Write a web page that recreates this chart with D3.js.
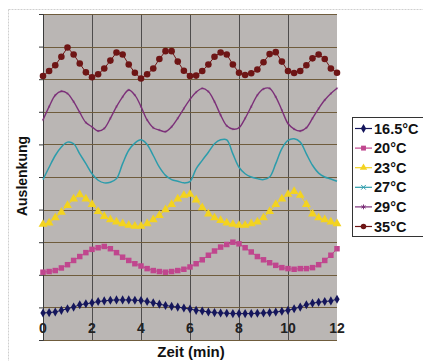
<!DOCTYPE html>
<html>
<head>
<meta charset="utf-8">
<script src="https://cdn.jsdelivr.net/npm/d3@7"></script>
<style>
  body { margin: 0; background: #fff; }
  svg { display: block; font-family: "Liberation Sans", Arial, sans-serif; }
</style>
</head>
<body>
<script>
// time axis (min)
const times = [0, 0.25, 0.5, 0.75, 1, 1.25, 1.5, 1.75, 2, 2.25, 2.5, 2.75, 3, 3.25, 3.5, 3.75,
  4, 4.25, 4.5, 4.75, 5, 5.25, 5.5, 5.75, 6, 6.25, 6.5, 6.75, 7, 7.25, 7.5, 7.75,
  8, 8.25, 8.5, 8.75, 9, 9.25, 9.5, 9.75, 10, 10.25, 10.5, 10.75, 11, 11.25, 11.5, 11.75, 12]
const xTicks = [0, 2, 4, 6, 8, 10, 12]
const seriesNames = ['16.5°C', '20°C', '23°C', '27°C', '29°C', '35°C']

const s165 = [-0.17, -0.16, -0.14, -0.09, -0.04, 0.01, 0.08, 0.11, 0.14, 0.18, 0.20, 0.22, 0.23, 0.23, 0.23, 0.22,
  0.21, 0.18, 0.14, 0.10, 0.06, 0.03, 0.01, -0.02, -0.05, -0.09, -0.11, -0.14, -0.16, -0.17, -0.18, -0.19,
  -0.19, -0.19, -0.19, -0.18, -0.17, -0.16, -0.14, -0.12, -0.09, -0.04, 0.01, 0.08, 0.13, 0.16, 0.18, 0.20, 0.25]
const s20 = [1.08, 1.10, 1.13, 1.21, 1.31, 1.44, 1.56, 1.68, 1.78, 1.83, 1.87, 1.80, 1.68, 1.54, 1.44, 1.34,
  1.27, 1.19, 1.13, 1.10, 1.08, 1.10, 1.13, 1.17, 1.24, 1.34, 1.46, 1.60, 1.73, 1.85, 1.93, 2.00,
  1.95, 1.83, 1.70, 1.56, 1.46, 1.37, 1.29, 1.22, 1.19, 1.17, 1.19, 1.19, 1.22, 1.31, 1.44, 1.60, 1.80]
const s23 = [2.55, 2.59, 2.75, 2.92, 3.13, 3.33, 3.46, 3.33, 3.16, 2.94, 2.79, 2.69, 2.62, 2.57, 2.52, 2.49,
  2.49, 2.57, 2.69, 2.82, 3.00, 3.16, 3.33, 3.44, 3.47, 3.30, 3.06, 2.87, 2.75, 2.67, 2.59, 2.55,
  2.52, 2.52, 2.57, 2.62, 2.75, 2.94, 3.16, 3.33, 3.47, 3.56, 3.44, 3.16, 2.87, 2.75, 2.69, 2.62, 2.57]
const s27 = [3.92, 4.30, 4.66, 4.92, 5.07, 5.02, 4.71, 4.41, 4.10, 3.90, 3.82, 3.84, 3.95, 4.41, 4.82, 5.04,
  5.14, 5.00, 4.66, 4.30, 4.05, 3.92, 3.87, 3.82, 3.86, 4.25, 4.51, 4.76, 5.02, 5.14, 5.14, 4.71,
  4.30, 4.10, 4.00, 3.95, 3.92, 4.00, 4.41, 4.87, 5.12, 5.17, 5.07, 4.71, 4.36, 4.12, 4.00, 3.94, 3.87]
const s29 = [5.75, 6.16, 6.51, 6.63, 6.56, 6.31, 5.98, 5.67, 5.54, 5.41, 5.49, 5.80, 6.16, 6.46, 6.67, 6.51,
  6.16, 5.75, 5.51, 5.44, 5.39, 5.54, 5.80, 6.10, 6.38, 6.60, 6.72, 6.62, 6.31, 5.90, 5.57, 5.47,
  5.51, 5.80, 6.16, 6.51, 6.70, 6.72, 6.46, 6.05, 5.64, 5.47, 5.41, 5.51, 5.80, 6.10, 6.36, 6.56, 6.72]
const s35 = [7.10, 7.25, 7.43, 7.69, 7.97, 7.76, 7.48, 7.21, 7.06, 7.15, 7.33, 7.57, 7.82, 7.76, 7.45, 7.20,
  7.02, 7.15, 7.33, 7.62, 7.86, 7.86, 7.54, 7.26, 7.10, 7.11, 7.25, 7.45, 7.69, 7.82, 7.76, 7.45,
  7.20, 7.13, 7.18, 7.30, 7.52, 7.77, 7.83, 7.54, 7.25, 7.19, 7.25, 7.43, 7.64, 7.76, 7.62, 7.33, 7.20]

const seriesValues = [s165, s20, s23, s27, s29, s35]
const colors = ['#15165c', '#c0468e', '#f3d320', '#2c9cab', '#7c3079', '#6e1515']
const symbols = [d3.symbolDiamond, d3.symbolSquare, d3.symbolTriangle,
  d3.symbolX || d3.symbolCross, d3.symbolAsterisk || d3.symbolCross, d3.symbolCircle]
const symSizes = [24, 30, 34, 0, 5, 34]
const strokeSyms = [false, false, false, true, true, false]
const lineWidths = [1, 1, 1, 1.5, 1.4, 1]

const w = 423, h = 361
const plot = { left: 43, right: 337, top: 14, bottom: 340 }

const svg = d3.select('body').append('svg')
  .attr('width', w)
  .attr('height', h)

// chart frame
svg.append('rect')
  .attr('x', 8.5).attr('y', 9.5)
  .attr('width', 430).attr('height', 360)
  .attr('fill', '#fff')
  .attr('stroke', '#cfcfcf')
  .attr('stroke-dasharray', '2,1')

const xScale = d3.scaleLinear().domain([0, 12]).range([plot.left, plot.right])
const yScale = d3.scaleLinear().domain([-1, 9]).range([plot.bottom, plot.top])

svg.append('rect')
  .attr('x', plot.left).attr('y', plot.top)
  .attr('width', plot.right - plot.left)
  .attr('height', plot.bottom - plot.top)
  .attr('fill', '#bab6b4')

// grid
svg.append('g')
  .selectAll('line')
  .data([2, 4, 6, 8, 10])
  .join('line')
  .attr('x1', d => xScale(d) + 0.5).attr('x2', d => xScale(d) + 0.5)
  .attr('y1', plot.top).attr('y2', plot.bottom)
  .attr('stroke', '#4e4c4c')
  .attr('stroke-width', 1)

svg.append('g')
  .selectAll('line')
  .data(d3.range(-1, 10))
  .join('line')
  .attr('x1', plot.left).attr('x2', plot.right)
  .attr('y1', d => Math.round(yScale(d)) + 0.5).attr('y2', d => Math.round(yScale(d)) + 0.5)
  .attr('stroke', '#6f5c3c')
  .attr('stroke-width', 1)

// y axis: line and ticks, no labels
const yAxis = d3.axisLeft(yScale).tickValues(d3.range(-1, 10)).tickSize(4).tickFormat('')
svg.append('g')
  .attr('transform', `translate(${plot.left}, 0)`)
  .call(yAxis)
  .call(g => g.select('.domain').attr('stroke', '#3a3a3a'))
  .call(g => g.selectAll('.tick line').attr('stroke', '#3a3a3a'))

// x tick labels sit under the zero line
svg.append('g')
  .selectAll('text')
  .data(xTicks)
  .join('text')
  .attr('x', d => xScale(d))
  .attr('y', yScale(0) + 26)
  .attr('text-anchor', 'middle')
  .attr('font-size', 14)
  .attr('font-weight', 'bold')
  .attr('fill', '#222')
  .text(d => d)

// series
const line = d3.line()
  .x((d, i) => xScale(times[i]))
  .y(d => yScale(d))

seriesValues.forEach((vals, k) => {
  const g = svg.append('g')
  g.append('path')
    .datum(vals)
    .attr('d', line.curve(k === 3 || k === 4 ? d3.curveCatmullRom : d3.curveLinear))
    .attr('fill', 'none')
    .attr('stroke', colors[k])
    .attr('stroke-width', lineWidths[k])
  if (symSizes[k] === 0) return
  const sym = d3.symbol().type(symbols[k]).size(symSizes[k])
  g.selectAll('path.pt')
    .data(vals)
    .join('path')
    .attr('class', 'pt')
    .attr('transform', (d, i) => `translate(${xScale(times[i])}, ${yScale(d)})`)
    .attr('d', sym)
    .attr('fill', strokeSyms[k] ? 'none' : colors[k])
    .attr('stroke', strokeSyms[k] ? colors[k] : 'none')
    .attr('stroke-width', 0.6)
    .attr('opacity', strokeSyms[k] ? 0.6 : 1)
})

// axis titles
svg.append('text')
  .attr('x', 191).attr('y', 357)
  .attr('text-anchor', 'middle')
  .attr('font-size', 15)
  .attr('font-weight', 'bold')
  .attr('fill', '#111')
  .text('Zeit (min)')

svg.append('text')
  .attr('transform', 'translate(27, 176) rotate(-90)')
  .attr('text-anchor', 'middle')
  .attr('font-size', 14)
  .attr('font-weight', 'bold')
  .attr('fill', '#111')
  .text('Auslenkung')

// legend
const legend = svg.append('g').attr('id', 'legend')
legend.append('rect')
  .attr('x', 352.5).attr('y', 117.5)
  .attr('width', 80).attr('height', 119)
  .attr('fill', '#fff')
  .attr('stroke', '#333')

seriesNames.forEach((name, k) => {
  const y = 128.5 + k * 19.6
  legend.append('line')
    .attr('x1', 355).attr('x2', 372)
    .attr('y1', y).attr('y2', y)
    .attr('stroke', colors[k])
    .attr('stroke-width', 1.2)
  legend.append('path')
    .attr('transform', `translate(363.5, ${y})`)
    .attr('d', d3.symbol().type(symbols[k]).size(k >= 3 && k <= 4 ? 16 : 24))
    .attr('fill', strokeSyms[k] ? 'none' : colors[k])
    .attr('stroke', strokeSyms[k] ? colors[k] : 'none')
  legend.append('text')
    .attr('x', 374).attr('y', y + 5)
    .attr('font-size', 14.5)
    .attr('font-weight', 'bold')
    .attr('fill', '#111')
    .text(name)
})
</script>
</body>
</html>
